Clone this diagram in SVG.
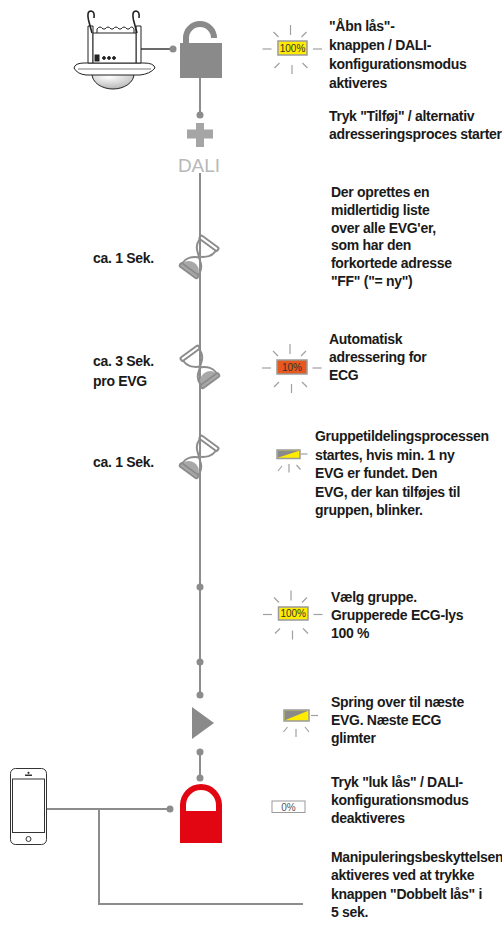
<svg xmlns="http://www.w3.org/2000/svg" width="502" height="932" viewBox="0 0 502 932">
  <style>
    .t { font-family: "Liberation Sans", Arial, sans-serif; font-weight: bold; font-size: 14px; fill: #1a1a1a; letter-spacing: -0.3px; }
    .conn { stroke: #8c8c8c; stroke-width: 2; fill: none; }
    .dot { fill: #8c8c8c; }
    .ray { stroke: #a0a0a0; stroke-width: 1.2; fill: none; }
    .led { stroke: #9a9a9a; stroke-width: 1.5; }
    .ledtxt { font-family: "Liberation Sans", Arial, sans-serif; font-size: 10px; fill: #333; text-anchor: middle; }
    .hg { stroke: #8c8c8c; fill: none; stroke-width: 2; }
  </style>
  <defs>
    <radialGradient id="domeGrad" cx="0.4" cy="0.2" r="0.8">
      <stop offset="0" stop-color="#ffffff"/>
      <stop offset="1" stop-color="#b5b5b5"/>
    </radialGradient>
    <!-- rays of a blinking light, drawn round the centre of its box -->
    <g id="rays" class="ray">
      <line x1="-2" y1="-23" x2="-2" y2="-13"/>
      <line x1="-0.5" y1="17" x2="-0.5" y2="26"/>
      <line x1="-30" y1="1" x2="-21" y2="1"/>
      <line x1="20.5" y1="1" x2="29.5" y2="1"/>
      <line x1="-19" y1="-16" x2="-14" y2="-11"/>
      <line x1="9" y1="-11" x2="14" y2="-16"/>
      <line x1="-18" y1="20" x2="-13" y2="15"/>
      <line x1="10" y1="15" x2="15" y2="20"/>
    </g>
    <!-- hourglass, centred on its neck -->
    <g id="hourglass">
      <rect class="hg" x="-11" y="-19" width="22" height="4" rx="1.5" stroke-width="1.8"/>
      <path class="hg" d="M-10,-15 C-10,-5 -3,-3 0,0 C3,-3 10,-5 10,-15"/>
      <path d="M-1.5,-2 L1.5,-2 L0,0 Z" fill="#9a9a9a"/>
      <path d="M-9.5,15 C-8.5,9.5 -4,7.5 0,7.5 C4,7.5 8.5,9.5 9.5,15 Z" fill="#a8a8a8"/>
      <path class="hg" d="M-10,15 C-10,5 -3,3 0,0 C3,3 10,5 10,15"/>
      <rect x="-11" y="15" width="22" height="4" rx="1.5" fill="#a8a8a8" stroke="#8c8c8c" stroke-width="1.8"/>
    </g>
  </defs>

  <rect width="502" height="932" fill="#ffffff"/>

  <!-- connectors -->
  <g id="connectors">
    <line x1="139" y1="49" x2="173" y2="49" stroke="#6a6a6a" stroke-width="2"/>
    <line class="conn" x1="200" y1="78" x2="200" y2="115"/>
    <line class="conn" x1="200" y1="173" x2="200" y2="695"/>
    <line class="conn" x1="200" y1="752" x2="200" y2="778"/>
    <line class="conn" x1="47" y1="809" x2="170" y2="809"/>
    <polyline class="conn" points="99,809 99,904 303,904"/>
    <circle class="dot" cx="173" cy="49" r="3.5"/>
    <circle class="dot" cx="200" cy="115" r="3.5"/>
    <circle class="dot" cx="200" cy="587" r="3.5"/>
    <circle class="dot" cx="200" cy="662" r="3.5"/>
    <circle class="dot" cx="200" cy="695" r="3.5"/>
    <circle class="dot" cx="200" cy="752" r="3.5"/>
    <circle class="dot" cx="200" cy="778" r="3.5"/>
    <circle class="dot" cx="170" cy="809" r="3.5"/>
  </g>

  <!-- ceiling sensor -->
  <g id="sensor" stroke="#222" stroke-width="1" fill="#fff">
    <path d="M92,74 A21,15 0 0 0 134,74 Z" fill="url(#domeGrad)"/>
    <path d="M74,68 Q75,63 84,63 L144,63 Q154,63 155,68 Q150,74 140,75 L86,75 Q77,74 74,68 Z"/>
    <line x1="78" y1="69" x2="151" y2="69" stroke-width="0.6"/>
    <path d="M88,26 L93,26 L93,63 L88,63 Z"/>
    <path d="M136,26 L141,26 L141,63 L136,63 Z"/>
    <path d="M93,33 L136,33 L136,63 L93,63 Z"/>
    <path d="M97,33 L97,29 Q100,25 103,29 L105,29 Q108,25 111,29 L113,29 Q116,25 119,29 L121,29 Q124,25 127,29 L129,29 Q132,25 134,29 L134,33" fill="none"/>
    <path d="M92,33 L88.5,20 Q86.5,11 91,11 Q95,11.5 94,18" fill="none" stroke-width="1.6"/>
    <path d="M137,33 L133.5,20 Q131.5,11 136,11 Q140,11.5 139,18" fill="none" stroke-width="1.6"/>
    <rect x="95" y="55" width="4" height="6" fill="#222"/>
    <circle cx="104" cy="58" r="1.4" fill="#222"/>
    <circle cx="109" cy="58" r="1.4" fill="#222"/>
    <circle cx="114" cy="58" r="1.4" fill="#222"/>
  </g>

  <!-- open lock -->
  <g id="lock-open">
    <path d="M186,44 V38 A14,14 0 0 1 214,38" fill="none" stroke="#8a8a8a" stroke-width="6"/>
    <rect x="180" y="43" width="42" height="35" fill="#8a8a8a"/>
  </g>

  <!-- DALI add -->
  <g id="dali-add">
    <rect x="196" y="123" width="8" height="24" fill="#a5a5a5"/>
    <rect x="187" y="129.5" width="26" height="9" fill="#a5a5a5"/>
    <text x="199" y="171.5" font-family="Liberation Sans, Arial, sans-serif" font-size="19" fill="#b8b8b8" text-anchor="middle">DALI</text>
  </g>

  <!-- hourglasses -->
  <g id="wait-1"><use href="#hourglass" transform="translate(199,257) rotate(36)"/></g>
  <g id="wait-2"><use href="#hourglass" transform="translate(200,367) rotate(-36)"/></g>
  <g id="wait-3"><use href="#hourglass" transform="translate(199,457) rotate(36)"/></g>

  <!-- next -->
  <g id="next">
    <polygon points="192,707 214,723 192,739" fill="#8a8a8a"/>
  </g>

  <!-- closed lock -->
  <g id="lock-closed">
    <path d="M180,812 V805 A21,21 0 0 1 222,805 V812 Z" fill="#e20613"/>
    <path d="M186,812 V805 A15,15 0 0 1 216,805 V812 Z" fill="#ffffff"/>
    <rect x="180" y="811" width="42" height="32" fill="#e20613"/>
  </g>

  <!-- phone -->
  <g id="phone" fill="none" stroke="#333" stroke-width="1">
    <rect x="10.5" y="768.5" width="36" height="76" rx="5"/>
    <rect x="12.5" y="779" width="32" height="53.5"/>
    <circle cx="28.5" cy="839" r="2.5"/>
    <rect x="25" y="774.5" width="7" height="1.5" fill="#333" stroke="none"/>
    <circle cx="28.5" cy="772.8" r="1.1" fill="#333" stroke="none"/>
  </g>

  <!-- lights -->
  <g id="led-100-a">
    <use href="#rays" transform="translate(292.5,48)"/>
    <rect class="led" x="278" y="41" width="29" height="14" fill="#ffec00"/>
    <text class="ledtxt" x="292.5" y="51.8">100%</text>
  </g>
  <g id="led-10">
    <use href="#rays" transform="translate(292,367)"/>
    <rect class="led" x="277" y="360" width="30" height="14" fill="#e8581c"/>
    <text class="ledtxt" x="292" y="370.8">10%</text>
  </g>
  <g id="led-blink-a">
    <rect class="led" x="277" y="450" width="23" height="8.5" fill="#ffec00"/>
    <path d="M277.8,450.8 H299.2 L277.8,457.7 Z" fill="#8a8a8a"/>
    <g class="ray">
      <line x1="301" y1="454" x2="307.5" y2="454"/>
      <line x1="289" y1="464" x2="289" y2="472.5"/>
      <line x1="282" y1="466" x2="278" y2="471"/>
      <line x1="296.5" y1="465" x2="300.5" y2="469.5"/>
    </g>
  </g>
  <g id="led-100-b">
    <use href="#rays" transform="translate(293,613.5)"/>
    <rect class="led" x="278.5" y="607" width="29.5" height="13" fill="#ffec00"/>
    <text class="ledtxt" x="293.2" y="617.3">100%</text>
  </g>
  <g id="led-blink-b">
    <rect class="led" x="284" y="710" width="25" height="11" fill="#ffec00"/>
    <path d="M284.8,710.8 H308.2 L284.8,720.2 Z" fill="#8a8a8a"/>
    <g class="ray">
      <line x1="311" y1="715.5" x2="318" y2="715.5"/>
      <line x1="296" y1="729" x2="296" y2="737"/>
      <line x1="287.5" y1="727" x2="283.5" y2="732"/>
      <line x1="305" y1="727" x2="309" y2="732"/>
    </g>
  </g>
  <g id="led-0">
    <rect x="272" y="801" width="33" height="11.5" fill="#ffffff" stroke="#9a9a9a" stroke-width="1"/>
    <text class="ledtxt" x="288.5" y="810.5" font-size="9" style="fill:#555">0%</text>
  </g>

  <!-- step descriptions -->
  <g id="text-open">
    <text class="t" x="329" y="31">"Åbn lås"-</text>
    <text class="t" x="329" y="50">knappen / DALI-</text>
    <text class="t" x="329" y="68.5">konfigurationsmodus</text>
    <text class="t" x="329" y="87.5">aktiveres</text>
  </g>
  <g id="text-add">
    <text class="t" x="329" y="121">Tryk "Tilføj" / alternativ</text>
    <text class="t" x="329" y="139">adresseringsproces starter</text>
  </g>
  <g id="text-list">
    <text class="t" x="331" y="197">Der oprettes en</text>
    <text class="t" x="331" y="214.8">midlertidig liste</text>
    <text class="t" x="331" y="232.6">over alle EVG'er,</text>
    <text class="t" x="331" y="250.4">som har den</text>
    <text class="t" x="331" y="268.2">forkortede adresse</text>
    <text class="t" x="331" y="286">"FF" ("= ny")</text>
  </g>
  <g id="text-auto">
    <text class="t" x="329" y="343.5">Automatisk</text>
    <text class="t" x="329" y="361.5">adressering for</text>
    <text class="t" x="329" y="379.5">ECG</text>
  </g>
  <g id="text-group">
    <text class="t" x="315" y="441">Gruppetildelingsprocessen</text>
    <text class="t" x="315" y="459.5">startes, hvis min. 1 ny</text>
    <text class="t" x="315" y="478">EVG er fundet. Den</text>
    <text class="t" x="315" y="496.5">EVG, der kan tilføjes til</text>
    <text class="t" x="315" y="515">gruppen, blinker.</text>
  </g>
  <g id="text-select">
    <text class="t" x="331" y="602">Vælg gruppe.</text>
    <text class="t" x="331" y="620">Grupperede ECG-lys</text>
    <text class="t" x="331" y="638">100 %</text>
  </g>
  <g id="text-skip">
    <text class="t" x="331" y="707">Spring over til næste</text>
    <text class="t" x="331" y="725">EVG. Næste ECG</text>
    <text class="t" x="331" y="743">glimter</text>
  </g>
  <g id="text-close">
    <text class="t" x="331" y="786.5">Tryk "luk lås" / DALI-</text>
    <text class="t" x="331" y="804.5">konfigurationsmodus</text>
    <text class="t" x="331" y="822.5">deaktiveres</text>
  </g>
  <g id="text-protect">
    <text class="t" x="331" y="861.5">Manipuleringsbeskyttelsen</text>
    <text class="t" x="331" y="880">aktiveres ved at trykke</text>
    <text class="t" x="331" y="898.5">knappen "Dobbelt lås" i</text>
    <text class="t" x="331" y="917">5 sek.</text>
  </g>
  <g id="text-times">
    <text class="t" x="93" y="263">ca. 1 Sek.</text>
    <text class="t" x="93" y="366">ca. 3 Sek.</text>
    <text class="t" x="93" y="386">pro EVG</text>
    <text class="t" x="93" y="466.5">ca. 1 Sek.</text>
  </g>
</svg>
